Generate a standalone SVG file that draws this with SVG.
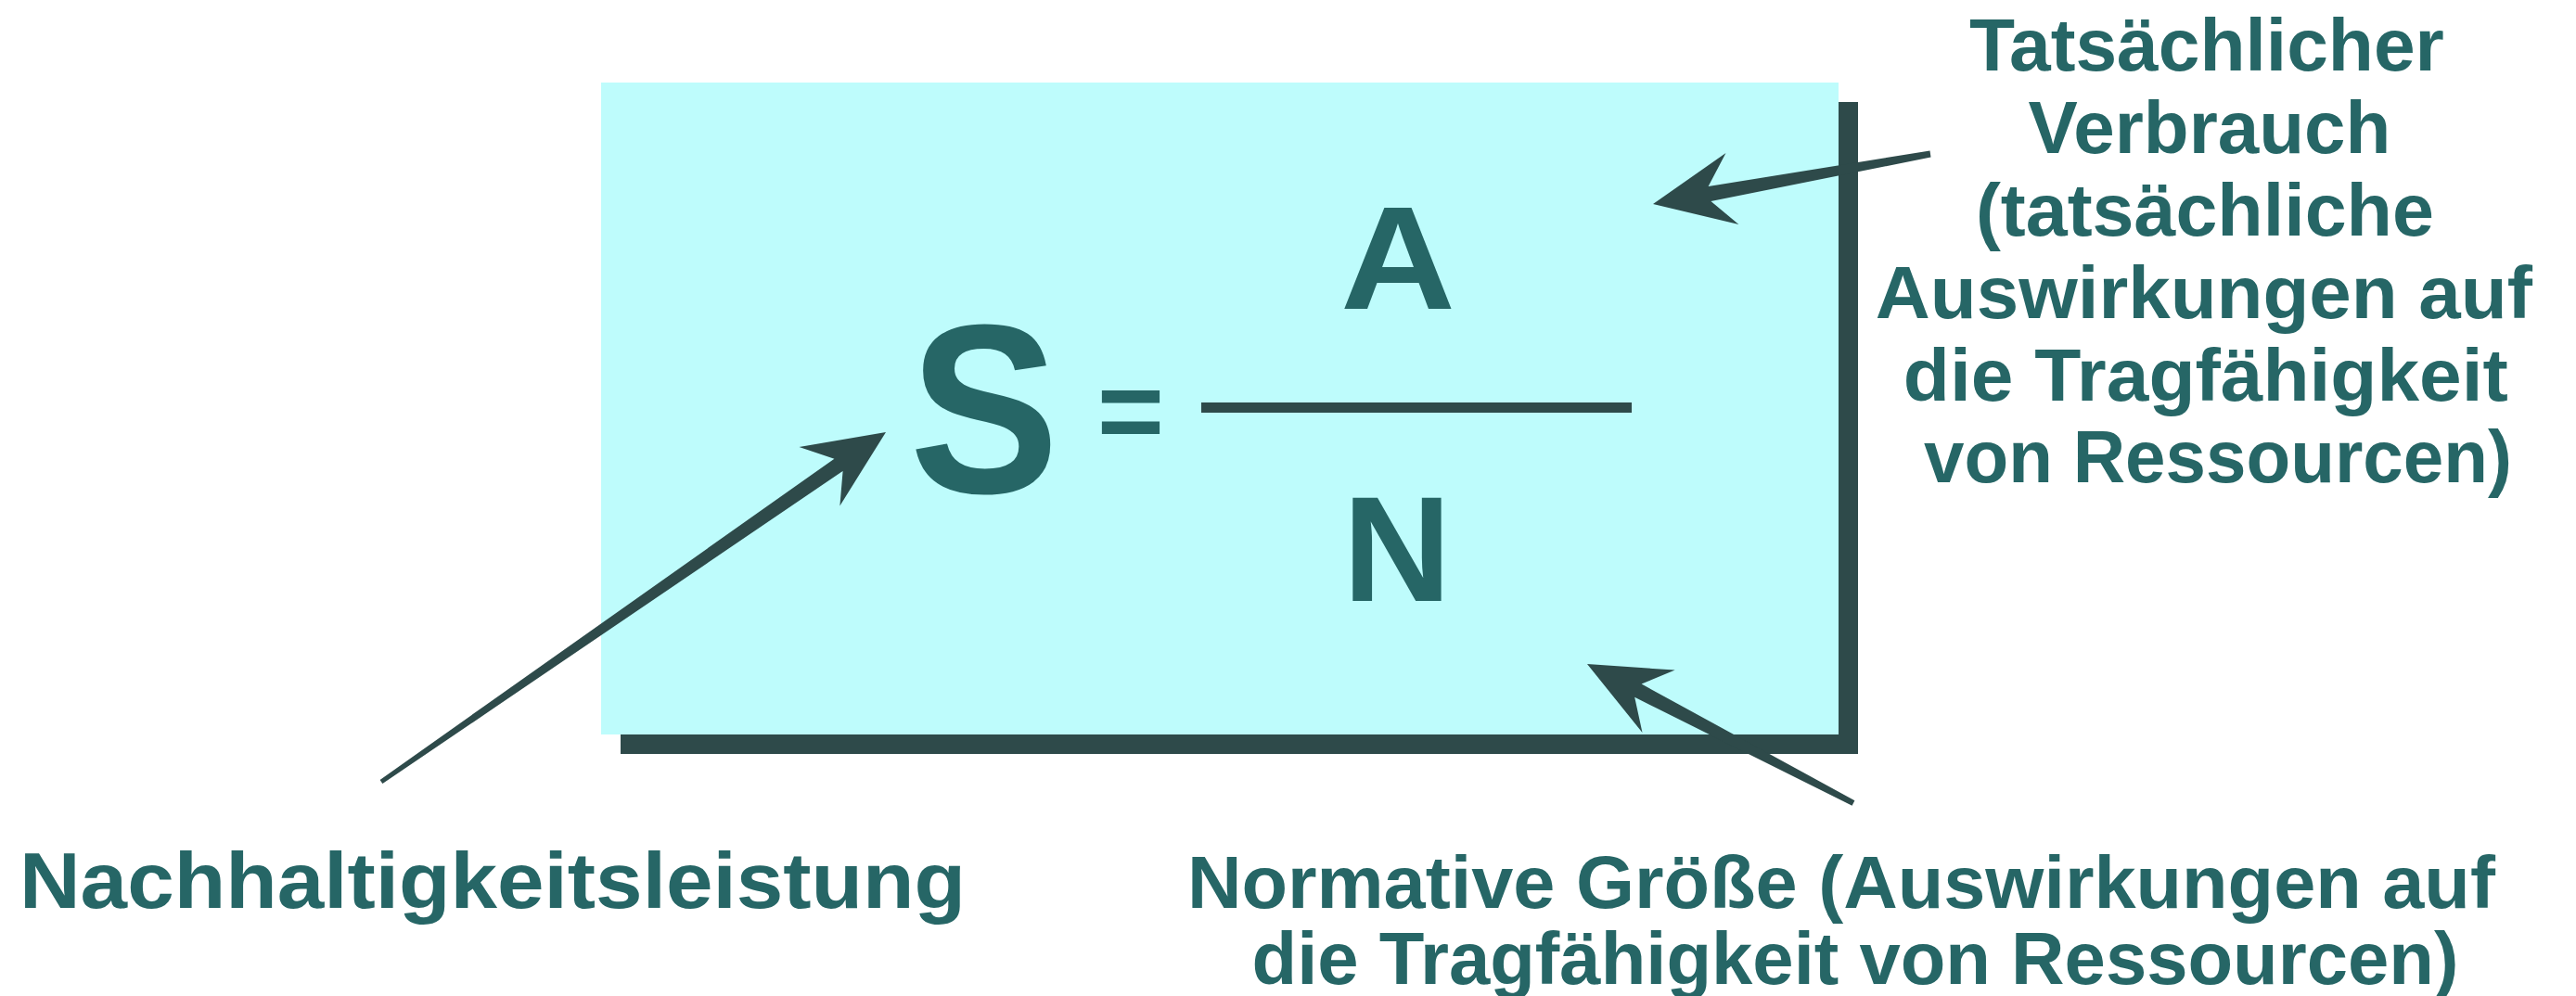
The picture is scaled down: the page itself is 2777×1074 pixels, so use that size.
<svg xmlns="http://www.w3.org/2000/svg" width="2777" height="1074" viewBox="0 0 2777 1074">
<style>
.lbl{font-family:"Liberation Sans",Arial,sans-serif;font-weight:bold;fill:#266666;text-anchor:middle}
.dark{fill:#2E4A4A}
</style>
<rect width="2777" height="1074" fill="#FFFFFF"/>
<g id="formula-box">
<rect class="dark" x="669" y="110" width="1334" height="703"/>
<rect x="648" y="89" width="1334" height="703" fill="#BEFCFC"/>
<text class="lbl" x="0" y="531" font-size="260" transform="translate(1061,0) scale(0.93,1)">S</text>
<text class="lbl" x="1219" y="486" font-size="124">=</text>
<rect class="dark" x="1295" y="434" width="464" height="11"/>
<text class="lbl" x="1507" y="333" font-size="158" textLength="124" lengthAdjust="spacingAndGlyphs">A</text>
<text class="lbl" x="1506" y="648" font-size="162">N</text>
</g>
<g id="connectors">
<polygon class="dark" points="955,466 861.5,482.1 899.4,494.7 409.6,840.9 412.4,845.1 908.6,507.9 905.4,545.4"/>
<polygon class="dark" points="1782,220 1860.5,165.1 1841.6,201.1 2080.5,162.5 2081.5,169.5 1844.4,216.9 1874.4,241.9"/>
<polygon class="dark" points="1711,716 1805.7,722.6 1769.6,737.6 1999.4,863.3 1996.6,868.7 1762.2,751.8 1770.5,790"/>
</g>
<g id="label-s">
<text class="lbl" x="531" y="979" font-size="86" textLength="1020" lengthAdjust="spacingAndGlyphs">Nachhaltigkeitsleistung</text>
</g>
<g id="label-a">
<text class="lbl" font-size="80">
<tspan x="2390" y="76" textLength="512" lengthAdjust="spacingAndGlyphs">Tatsächlicher</tspan>
<tspan x="2393" y="165" textLength="391" lengthAdjust="spacingAndGlyphs">Verbrauch</tspan>
<tspan x="2388" y="254" textLength="494" lengthAdjust="spacingAndGlyphs">(tatsächliche</tspan>
<tspan x="2387" y="343" textLength="708" lengthAdjust="spacingAndGlyphs">Auswirkungen auf</tspan>
<tspan x="2389" y="432" textLength="652" lengthAdjust="spacingAndGlyphs">die Tragfähigkeit</tspan>
<tspan x="2391" y="520" textLength="634" lengthAdjust="spacingAndGlyphs">von Ressourcen)</tspan>
</text>
</g>
<g id="label-n">
<text class="lbl" font-size="80">
<tspan x="1996" y="979" textLength="1410" lengthAdjust="spacingAndGlyphs">Normative Größe (Auswirkungen auf</tspan>
<tspan x="2000" y="1061" textLength="1301" lengthAdjust="spacingAndGlyphs">die Tragfähigkeit von Ressourcen)</tspan>
</text>
</g>
</svg>
